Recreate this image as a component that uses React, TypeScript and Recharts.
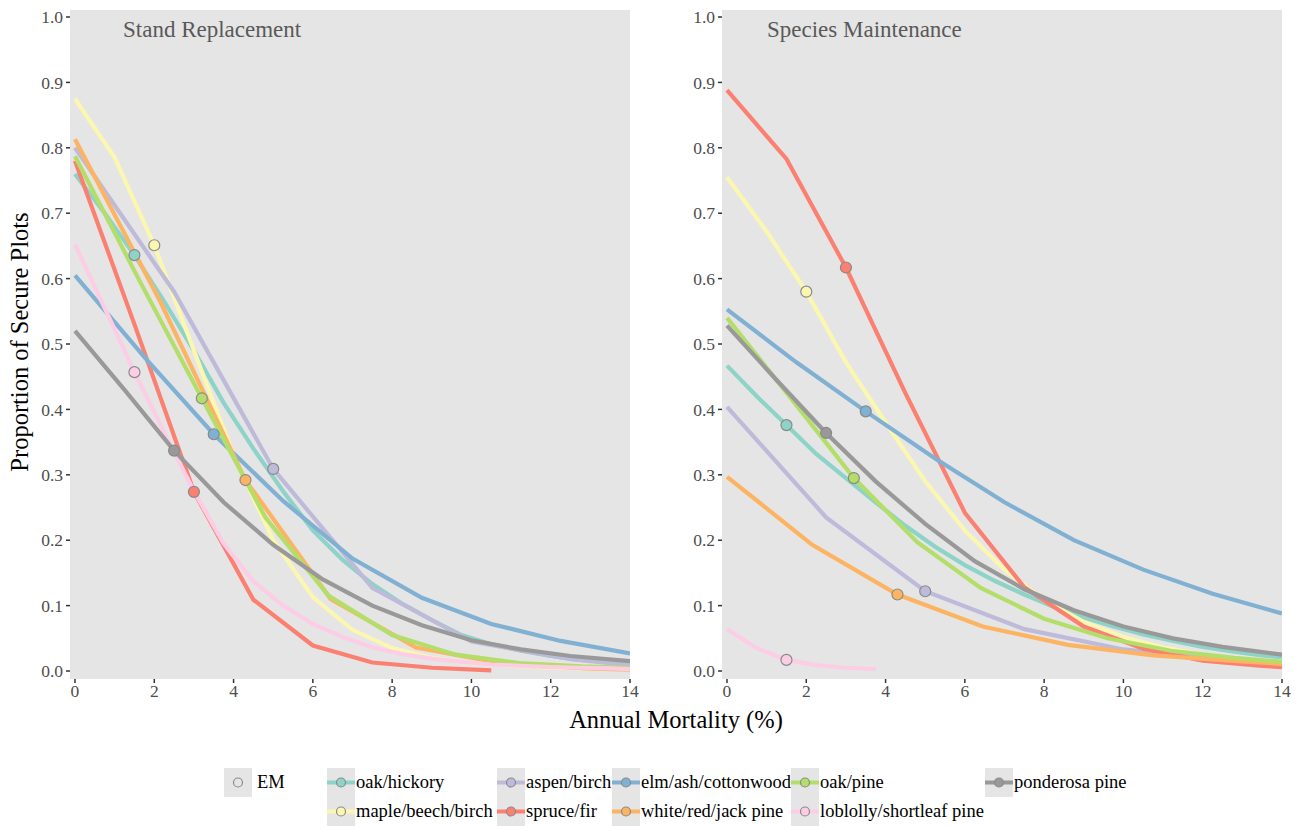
import React from 'react';
import { LineChart, Line, XAxis, YAxis, CartesianGrid } from 'recharts';

type Pt = [number, number];

// Stand Replacement panel: [annual mortality %, proportion secure]
const standOakHickory: Pt[] = [[0, 0.76], [0.75, 0.7], [1.5, 0.636], [2.25, 0.565], [3, 0.49], [3.75, 0.41], [4.5, 0.34], [5.25, 0.275], [6, 0.215], [6.75, 0.17], [7.5, 0.133], [8.25, 0.103], [9, 0.078], [9.75, 0.055], [10.5, 0.041], [11.25, 0.031], [12, 0.023], [12.75, 0.017], [13.5, 0.013], [14, 0.011]];
const standMaple: Pt[] = [[0, 0.875], [1, 0.785], [2, 0.651], [3, 0.49], [4, 0.33], [5, 0.2], [6, 0.113], [7, 0.063], [8, 0.035], [9, 0.02], [10, 0.012], [11, 0.008], [12, 0.005], [13, 0.004], [14, 0.003]];
const standAspen: Pt[] = [[0, 0.8], [2.5, 0.58], [5, 0.309], [7.5, 0.127], [10, 0.045], [12.5, 0.018], [14, 0.009]];
const standSpruce: Pt[] = [[0, 0.78], [1.5, 0.53], [3, 0.274], [4.5, 0.109], [6, 0.039], [7.5, 0.013], [9, 0.005], [10.5, 0.001]];
const standElm: Pt[] = [[0, 0.605], [1.75, 0.48], [3.5, 0.362], [5.25, 0.26], [7, 0.172], [8.75, 0.112], [10.5, 0.072], [12.25, 0.046], [14, 0.027]];
const standWhiteRedJack: Pt[] = [[0, 0.813], [2.15, 0.565], [4.3, 0.292], [6.45, 0.11], [8.6, 0.036], [10.75, 0.012], [12.9, 0.004], [14, 0.002]];
const standOakPine: Pt[] = [[0, 0.787], [1.6, 0.6], [3.2, 0.417], [4.8, 0.235], [6.4, 0.115], [8, 0.055], [9.6, 0.025], [11.2, 0.012], [12.8, 0.007], [14, 0.005]];
const standLoblolly: Pt[] = [[0, 0.652], [0.75, 0.555], [1.5, 0.457], [2.25, 0.365], [3, 0.275], [3.75, 0.195], [4.5, 0.137], [5.25, 0.1], [6, 0.072], [6.75, 0.052], [7.5, 0.036], [8.25, 0.026], [9, 0.019], [9.75, 0.014], [10.5, 0.01], [11.25, 0.008], [12, 0.006], [12.75, 0.005], [13.5, 0.004], [14, 0.003]];
const standPonderosa: Pt[] = [[0, 0.52], [1.25, 0.43], [2.5, 0.337], [3.75, 0.258], [5, 0.193], [6.25, 0.14], [7.5, 0.1], [8.75, 0.07], [10, 0.047], [11.25, 0.033], [12.5, 0.023], [14, 0.015]];

// Species Maintenance panel
const specOakHickory: Pt[] = [[0, 0.467], [0.75, 0.42], [1.5, 0.376], [2.25, 0.332], [3, 0.295], [3.75, 0.258], [4.5, 0.222], [5.25, 0.19], [6, 0.162], [6.75, 0.138], [7.5, 0.117], [8.25, 0.098], [9, 0.082], [9.75, 0.068], [10.5, 0.056], [11.25, 0.046], [12, 0.037], [12.75, 0.03], [13.5, 0.024], [14, 0.021]];
const specMaple: Pt[] = [[0, 0.755], [1, 0.672], [2, 0.58], [3, 0.472], [4, 0.38], [5, 0.29], [6, 0.215], [7, 0.155], [8, 0.108], [9, 0.075], [10, 0.052], [11, 0.036], [12, 0.025], [13, 0.017], [14, 0.012]];
const specAspen: Pt[] = [[0, 0.404], [2.5, 0.235], [5, 0.122], [7.5, 0.064], [10, 0.033], [12.5, 0.018], [14, 0.012]];
const specSpruce: Pt[] = [[0, 0.888], [1.5, 0.783], [3, 0.617], [4.5, 0.425], [6, 0.242], [7.5, 0.128], [9, 0.068], [10.5, 0.034], [12, 0.016], [13.5, 0.008], [14, 0.006]];
const specElm: Pt[] = [[0, 0.553], [1.75, 0.472], [3.5, 0.397], [5.25, 0.325], [7, 0.258], [8.75, 0.2], [10.5, 0.155], [12.25, 0.118], [14, 0.088]];
const specWhiteRedJack: Pt[] = [[0, 0.297], [2.15, 0.193], [4.3, 0.117], [6.45, 0.068], [8.6, 0.04], [10.75, 0.024], [12.9, 0.015], [14, 0.011]];
const specOakPine: Pt[] = [[0, 0.54], [1.6, 0.418], [3.2, 0.295], [4.8, 0.197], [6.4, 0.127], [8, 0.08], [9.6, 0.05], [11.2, 0.031], [12.8, 0.02], [14, 0.014]];
const specLoblolly: Pt[] = [[0, 0.064], [0.75, 0.035], [1.5, 0.017], [2.25, 0.009], [3, 0.005], [3.75, 0.003]];
const specPonderosa: Pt[] = [[0, 0.528], [1.25, 0.445], [2.5, 0.364], [3.75, 0.29], [5, 0.225], [6.25, 0.168], [7.5, 0.125], [8.75, 0.093], [10, 0.068], [11.25, 0.05], [12.5, 0.037], [14, 0.025]];

const forestTypes = ['oak/hickory', 'maple/beech/birch', 'aspen/birch', 'spruce/fir', 'elm/ash/cottonwood', 'white/red/jack pine', 'oak/pine', 'loblolly/shortleaf pine', 'ponderosa pine'];
const colors = ['#8dd3c7', '#fbf7b0', '#bebada', '#fb8072', '#80b1d3', '#fdb462', '#b3de69', '#fccde5', '#999999'];
// mortality rate of the EM point for each forest type
const emMortality = [1.5, 2, 5, 3, 3.5, 4.3, 3.2, 1.5, 2.5];

const standSeries = [standOakHickory, standMaple, standAspen, standSpruce, standElm, standWhiteRedJack, standOakPine, standLoblolly, standPonderosa];
const specSeries = [specOakHickory, specMaple, specAspen, specSpruce, specElm, specWhiteRedJack, specOakPine, specLoblolly, specPonderosa];

const xTicks = [0, 2, 4, 6, 8, 10, 12, 14];
const yTicks = [0, 0.1, 0.2, 0.3, 0.4, 0.5, 0.6, 0.7, 0.8, 0.9, 1.0];

const FONT = '"Liberation Serif", "DejaVu Serif", serif';
const PANEL_BG = '#e5e5e5';

const toRows = (pts: Pt[]) => pts.map(([x, y]) => ({ x, y }));

const Panel = ({ series, title, left, titleLeft }: { series: Pt[][]; title: string; left: number; titleLeft: number }) => {
  const tick = { fill: '#4d4d4d', fontSize: 17.5, fontFamily: FONT };
  return (
    <div style={{ position: 'absolute', left, top: 0 }}>
      <LineChart width={640} height={740} margin={{ top: 10, right: 10, left: 0, bottom: 0 }}>
        <CartesianGrid fill={PANEL_BG} stroke={PANEL_BG} horizontal={false} vertical={false} />
        <XAxis
          type="number"
          dataKey="x"
          domain={[-0.126, 14]}
          ticks={xTicks}
          allowDataOverflow
          axisLine={false}
          tickLine={{ stroke: '#333', strokeWidth: 1.5 }}
          tickSize={4}
          tickMargin={2}
          height={61}
          tick={tick}
        />
        <YAxis
          type="number"
          dataKey="y"
          domain={[-0.0122, 1.0107]}
          ticks={yTicks}
          allowDataOverflow
          axisLine={false}
          tickLine={{ stroke: '#333', strokeWidth: 1.5 }}
          tickSize={4}
          tickMargin={3}
          width={70}
          tick={tick}
          tickFormatter={(v: number) => v.toFixed(1)}
        />
        {series.map((pts, i) => (
          <Line
            key={forestTypes[i]}
            data={toRows(pts)}
            dataKey="y"
            stroke={colors[i]}
            strokeWidth={4.2}
            dot={false}
            isAnimationActive={false}
          />
        ))}
        {series.map((pts, i) => (
          <Line
            key={'em-' + forestTypes[i]}
            data={toRows(pts.filter(([x]) => x === emMortality[i]))}
            dataKey="y"
            stroke="none"
            dot={{ r: 5.5, fill: colors[i], stroke: '#8a8a8a', strokeWidth: 1.2, fillOpacity: 1 }}
            isAnimationActive={false}
          />
        ))}
      </LineChart>
      <div style={{ position: 'absolute', left: titleLeft, top: 17, fontFamily: FONT, fontSize: 23, color: '#595959', whiteSpace: 'nowrap' }}>
        {title}
      </div>
    </div>
  );
};

// legend layout: [item label index (-1 = EM), key left, row]
const legendSlots: [number, number, number][] = [
  [-1, 224, 0], [0, 327, 0], [2, 497, 0], [4, 612, 0], [6, 791, 0], [8, 985, 0],
  [1, 327, 1], [3, 497, 1], [5, 612, 1], [7, 791, 1],
];

const LegendKey = ({ idx }: { idx: number }) => (
  <svg width={28} height={29} style={{ display: 'block' }}>
    <rect x={0} y={0} width={28} height={29} fill={PANEL_BG} />
    {idx >= 0 && <line x1={0} x2={28} y1={14.5} y2={14.5} stroke={colors[idx]} strokeWidth={4} />}
    <circle cx={14} cy={14.5} r={4.5} fill={idx >= 0 ? colors[idx] : 'none'} stroke="#8a8a8a" strokeWidth={1.2} />
  </svg>
);

export default function App() {
  return (
    <div style={{ position: 'absolute', left: 0, top: 0, width: 1299, height: 826, background: '#fff', fontFamily: FONT, overflow: 'hidden' }}>
      <Panel series={standSeries} title="Stand Replacement" left={0} titleLeft={123} />
      <Panel series={specSeries} title="Species Maintenance" left={652} titleLeft={115} />
      <div
        style={{
          position: 'absolute', left: 20, top: 342, transform: 'translate(-50%, -50%) rotate(-90deg)',
          fontSize: 24.5, color: '#000', whiteSpace: 'nowrap',
        }}
      >
        Proportion of Secure Plots
      </div>
      <div style={{ position: 'absolute', left: 676, top: 720, transform: 'translate(-50%, -50%)', fontSize: 24.5, color: '#000', whiteSpace: 'nowrap' }}>
        Annual Mortality (%)
      </div>
      {legendSlots.map(([idx, x, row]) => (
        <div key={idx} style={{ position: 'absolute', left: x, top: 768 + row * 29, height: 29, display: 'flex', alignItems: 'center' }}>
          <LegendKey idx={idx} />
          <span style={{ fontSize: 18.5, color: '#000', marginLeft: idx < 0 ? 5 : 1, whiteSpace: 'nowrap' }}>
            {idx < 0 ? 'EM' : forestTypes[idx]}
          </span>
        </div>
      ))}
    </div>
  );
}
